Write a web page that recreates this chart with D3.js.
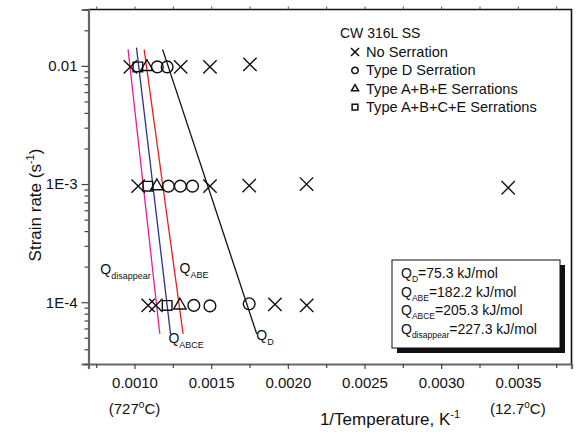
<!DOCTYPE html>
<html>
<head>
<meta charset="utf-8">
<script src="https://cdn.jsdelivr.net/npm/d3@7"></script>
<style>
  body { margin: 0; background: #fff; }
  text { font-family: Arial, "Liberation Sans", sans-serif; fill: #111; }
</style>
</head>
<body>
<div id="chart"></div>
<script>
// ---- data: [1/T (K^-1), strain rate (s^-1)] ----
const xTicks = [0.0010, 0.0015, 0.0020, 0.0025, 0.0030, 0.0035]
const xMinorTicks = [0.00075, 0.00125, 0.00175, 0.00225, 0.00275, 0.00325, 0.00375]
const yTicks = [0.01, 0.001, 0.0001]
const yTickLabels = ['0.01', '1E-3', '1E-4']
const tempNotes = [[0.0010, '727'], [0.0035, '12.7']]

const noSerration = [
  [0.000973, 0.0098], [0.001301, 0.0098], [0.001492, 0.0098], [0.001753, 0.0103],
  [0.001024, 0.00096], [0.001492, 0.00096], [0.001748, 0.00097], [0.002122, 0.0010], [0.003437, 0.00093],
  [0.001089, 0.000094], [0.001139, 0.000094], [0.001916, 0.000096], [0.002123, 0.000094]
]
const typeD = [
  [0.001149, 0.0098], [0.001213, 0.0098],
  [0.001221, 0.00096], [0.001299, 0.00096], [0.001378, 0.00096],
  [0.001387, 0.000094], [0.001492, 0.000093], [0.001748, 0.000097]
]
const typeABE = [[0.001081, 0.0098], [0.001146, 0.00096], [0.001296, 0.000094]]
const typeABCE = [[0.001022, 0.0098], [0.001087, 0.00096], [0.001213, 0.000094]]

// fitted Arrhenius lines (end points)
const fitNames = ['disappear', 'ABCE', 'ABE', 'D']
const fitColors = ['#ec1d8c', '#2e3192', '#ed1c24', '#111']
const fitTop = [[0.000958, 0.0138], [0.001013, 0.01426], [0.001063, 0.0138], [0.001183, 0.0138]]
const fitBottom = [[0.001165, 0.000054], [0.001235, 0.000054], [0.001317, 0.000054], [0.001797, 0.000054]]
// label anchor (data coords) for each fit line
const fitLabelPos = [[0.000777, 0.000172], [0.001221, 0.0000455], [0.001294, 0.000175], [0.001794, 0.0000475]]

const energies = ['75.3', '182.2', '205.3', '227.3']
const energyNames = ['D', 'ABE', 'ABCE', 'disappear']

const legendNames = ['No Serration', 'Type D Serration', 'Type A+B+E Serrations', 'Type A+B+C+E Serrations']

let width = 576
let height = 436
let margin = { top: 9.5, right: 4.5, bottom: 72, left: 88.5 }

let svg = d3.select('#chart')
            .append('svg')
            .attr('width', width)
            .attr('height', height)

let x = d3.scaleLinear()
          .domain([0.0007, 0.00385])
          .range([margin.left, width - margin.right])

let y = d3.scaleLog()
          .domain([0.00003, 0.03])
          .range([height - margin.bottom, margin.top])

let plotBottom = height - margin.bottom

// minor log ticks 2..9 per decade
let yMinor = []
for (let e = -5; e <= -2; e++) {
  for (let k = 2; k <= 9; k++) {
    let v = k * Math.pow(10, e)
    if (v >= 0.00003 && v <= 0.03) yMinor.push(v)
  }
}

// frame: top and right
svg.append('path')
   .attr('d', 'M' + x.range()[0] + ',' + margin.top + 'H' + x.range()[1] + 'V' + plotBottom)
   .attr('fill', 'none')
   .attr('stroke', '#111')
   .attr('stroke-width', 1.6)

// top ticks
svg.append('g')
   .attr('transform', 'translate(0,' + margin.top + ')')
   .call(d3.axisTop(x).tickValues(xTicks.concat(xMinorTicks)).tickSize(3).tickFormat(''))
   .call(g => g.select('.domain').remove())
   .call(g => g.selectAll('line').attr('stroke', '#555'))

// bottom axis
let xAxis = svg.append('g')
               .attr('transform', 'translate(0,' + plotBottom + ')')
               .call(d3.axisBottom(x).tickValues(xTicks).tickSize(5).tickPadding(8)
                       .tickFormat(d3.format('.4f')))
xAxis.append('g')
     .call(d3.axisBottom(x).tickValues(xMinorTicks).tickSize(4).tickFormat(''))
     .call(g => g.select('.domain').remove())
xAxis.selectAll('.domain').attr('stroke', '#666').attr('stroke-width', 2.2)
xAxis.selectAll('line').attr('stroke', '#444').attr('stroke-width', 1.2)
xAxis.selectAll('text')
     .style('font-size', '15px')
     .style('font-family', 'Arial, "Liberation Sans", sans-serif')
     .attr('fill', '#111')

// left axis
let yAxis = svg.append('g')
               .attr('transform', 'translate(' + margin.left + ',0)')
               .call(d3.axisLeft(y).tickValues(yTicks).tickSize(7).tickPadding(4)
                       .tickFormat((d, i) => yTickLabels[i]))
yAxis.append('g')
     .call(d3.axisLeft(y).tickValues(yMinor.filter(v => yTicks.indexOf(v) < 0)).tickSize(4).tickFormat(''))
     .call(g => g.select('.domain').remove())
yAxis.selectAll('.domain').attr('stroke', '#666').attr('stroke-width', 2.2)
yAxis.selectAll('line').attr('stroke', '#444').attr('stroke-width', 1.2)
yAxis.selectAll('text')
     .style('font-size', '15px')
     .style('font-family', 'Arial, "Liberation Sans", sans-serif')
     .attr('fill', '#111')

// temperature notes under the x labels
tempNotes.forEach(function (t) {
  let txt = svg.append('text')
               .attr('x', x(t[0]))
               .attr('y', plotBottom + 50)
               .attr('text-anchor', 'middle')
               .style('font-size', '15px')
  txt.append('tspan').text('(' + t[1])
  txt.append('tspan').attr('dy', -6).style('font-size', '10px').text('o')
  txt.append('tspan').attr('dy', 6).text('C)')
})

// axis titles
let xt = svg.append('text')
            .attr('x', 390)
            .attr('y', 425)
            .attr('text-anchor', 'middle')
            .style('font-size', '17px')
xt.append('tspan').text('1/Temperature, K')
xt.append('tspan').attr('dy', -7).style('font-size', '11px').text('-1')

let yt = svg.append('text')
            .attr('transform', 'translate(41,205) rotate(-90)')
            .attr('text-anchor', 'middle')
            .style('font-size', '17px')
yt.append('tspan').text('Strain rate (s')
yt.append('tspan').attr('dy', -7).style('font-size', '11px').text('-1')
yt.append('tspan').attr('dy', 7).text(')')

// fit lines
let plot = svg.append('g')
fitNames.forEach(function (n, i) {
  plot.append('line')
      .attr('x1', x(fitTop[i][0]))
      .attr('y1', y(fitTop[i][1]))
      .attr('x2', x(fitBottom[i][0]))
      .attr('y2', y(fitBottom[i][1]))
      .attr('stroke', fitColors[i])
      .attr('stroke-width', 1.3)

  let lab = plot.append('text')
                .attr('x', x(fitLabelPos[i][0]))
                .attr('y', y(fitLabelPos[i][1]))
                .style('font-size', '14px')
                .attr('fill', '#222')
  lab.append('tspan').text('Q')
  lab.append('tspan').attr('dy', 5).style('font-size', '9px').text(n)
})

// markers
let markerSets = [
  { data: noSerration, type: d3.symbolTimes, size: 118 },
  { data: typeD, type: d3.symbolCircle, size: 108 },
  { data: typeABE, type: d3.symbolTriangle2, size: 110 },
  { data: typeABCE, type: d3.symbolSquare2, size: 118 }
]
markerSets.forEach(function (m) {
  plot.selectAll(null)
      .data(m.data)
      .enter()
      .append('path')
      .attr('transform', d => 'translate(' + x(d[0]) + ',' + y(d[1]) + ')')
      .attr('d', d3.symbol().type(m.type).size(m.size))
      .attr('fill', 'none')
      .attr('stroke', '#111')
      .attr('stroke-width', 1.4)
})

// legend
let legend = svg.append('g').attr('transform', 'translate(340,0)')
legend.append('text')
      .attr('x', 0)
      .attr('y', 38)
      .style('font-size', '14px')
      .text('CW 316L SS')
let legendSizes = [44, 32, 36, 42]
legendNames.forEach(function (name, i) {
  let yy = 52 + i * 18.4
  legend.append('path')
        .attr('transform', 'translate(15,' + yy + ')')
        .attr('d', d3.symbol().type(markerSets[i].type).size(legendSizes[i]))
        .attr('fill', 'none')
        .attr('stroke', '#111')
        .attr('stroke-width', 1.5)
  legend.append('text')
        .attr('x', 26)
        .attr('y', yy + 5)
        .style('font-size', '14.6px')
        .text(name)
})

// activation energy box
let box = svg.append('g').attr('transform', 'translate(392,260)')
box.append('rect')
   .attr('x', 5).attr('y', 5)
   .attr('width', 168).attr('height', 88)
   .attr('fill', '#111')
box.append('rect')
   .attr('width', 168).attr('height', 88)
   .attr('fill', '#fff')
   .attr('stroke', '#111')
   .attr('stroke-width', 1)
energyNames.forEach(function (n, i) {
  let t = box.append('text')
             .attr('x', 9)
             .attr('y', 18 + i * 18.5)
             .style('font-size', '14px')
  t.append('tspan').text('Q')
  t.append('tspan').attr('dy', 4).style('font-size', '8.5px').text(n)
  t.append('tspan').attr('dy', -4).text('=' + energies[i] + ' kJ/mol')
})
</script>
</body>
</html>
